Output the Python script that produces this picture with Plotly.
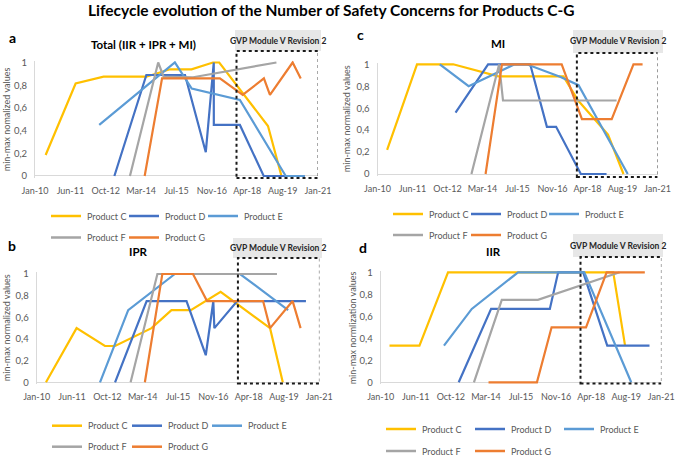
import pandas as pd
import plotly.graph_objects as go

W, H = 677, 457

PRODUCTS = ["Product C", "Product D", "Product E", "Product F", "Product G"]
COLORS = ["#FFC000", "#4472C4", "#5B9BD5", "#A5A5A5", "#ED7D31"]

X_TICK_LABELS = ["Jan-10", "Jun-11", "Oct-12", "Mar-14", "Jul-15", "Nov-16", "Apr-18", "Aug-19", "Jan-21"]
Y_TICK_VALUES = [0, 0.2, 0.4, 0.6, 0.8, 1]
Y_TICK_LABELS = ["0", "0,2", "0,4", "0,6", "0,8", "1"]
GVP_START, GVP_END = "2017-11-01", "2021-01-10"

# ---------------- Panel a: Total (IIR + IPR + MI) ----------------
tot_c_x = ["2010-06-01", "2011-08-01", "2012-09-01", "2014-05-01", "2015-04-01", "2016-02-01", "2016-12-01", "2017-03-01", "2019-01-22", "2019-08-01"]
tot_c_y = [0.185, 0.815, 0.875, 0.875, 0.94, 0.94, 1.0, 1.0, 0.44, 0.0]
tot_d_x = ["2013-02-01", "2014-05-01", "2015-11-01", "2016-08-22", "2016-12-13", "2016-12-14", "2017-12-19", "2018-11-22", "2020-06-25"]
tot_d_y = [0.0, 0.89, 0.89, 0.21, 1.0, 0.45, 0.45, 0.0, 0.0]
tot_e_x = ["2012-07-01", "2015-06-10", "2016-02-04", "2017-12-19", "2019-10-01", "2020-06-25"]
tot_e_y = [0.45, 1.0, 0.77, 0.67, 0.0, 0.0]
tot_f_x = ["2013-09-10", "2014-10-16", "2015-01-01", "2016-02-25", "2019-05-22"]
tot_f_y = [0.0, 1.0, 0.875, 0.87, 1.0]
tot_g_x = ["2014-04-07", "2014-12-10", "2017-03-10", "2018-01-28", "2018-11-25", "2019-02-19", "2020-01-07", "2020-05-01"]
tot_g_y = [0.0, 0.86, 0.86, 0.715, 0.86, 0.715, 1.0, 0.86]

# ---------------- Panel b: IPR ----------------
ipr_c_x = ["2010-05-13", "2011-07-22", "2012-08-28", "2013-01-19", "2014-06-22", "2015-04-01", "2016-01-01", "2017-02-28", "2019-02-01", "2019-08-01"]
ipr_c_y = [0.0, 0.5, 0.335, 0.335, 0.5, 0.667, 0.667, 0.835, 0.5, 0.0]
ipr_d_x = ["2013-01-19", "2014-04-13", "2015-11-01", "2016-08-01", "2016-11-16", "2016-12-01", "2017-10-22", "2020-06-25"]
ipr_d_y = [0.0, 0.75, 0.75, 0.25, 0.75, 0.5, 0.75, 0.75]
ipr_e_x = ["2012-06-19", "2013-07-25", "2015-05-19", "2017-12-01", "2019-10-16"]
ipr_e_y = [0.0, 0.667, 1.0, 1.0, 0.667]
ipr_f_x = ["2013-08-28", "2014-09-13", "2019-05-10"]
ipr_f_y = [0.0, 1.0, 1.0]
ipr_g_x = ["2014-03-19", "2014-11-22", "2016-02-01", "2016-08-19", "2018-10-25", "2019-02-01", "2019-12-19", "2020-04-10"]
ipr_g_y = [0.0, 1.0, 1.0, 0.75, 0.75, 0.5, 0.75, 0.5]

# ---------------- Panel c: MI ----------------
mi_c_x = ["2010-05-19", "2011-07-22", "2012-12-22", "2014-10-01", "2017-04-22", "2017-11-19", "2019-01-22", "2019-09-01"]
mi_c_y = [0.22, 1.0, 1.0, 0.89, 0.89, 0.67, 0.36, 0.0]
mi_d_x = ["2013-01-25", "2014-05-07", "2016-01-01", "2016-08-28", "2017-01-07", "2017-12-28", "2019-01-01"]
mi_d_y = [0.56, 1.0, 1.0, 0.43, 0.43, 0.0, 0.0]
mi_e_x = ["2012-06-13", "2013-08-01", "2015-05-22", "2015-11-13", "2017-03-04", "2017-11-25", "2019-11-01"]
mi_e_y = [1.0, 0.8, 1.0, 1.0, 0.887, 0.81, 0.0]
mi_f_x = ["2013-09-10", "2014-10-13", "2014-12-07", "2019-05-25"]
mi_f_y = [0.0, 1.0, 0.67, 0.67]
mi_g_x = ["2014-04-01", "2014-11-22", "2017-03-28", "2018-01-13", "2019-03-16", "2020-01-22", "2020-06-01"]
mi_g_y = [0.0, 1.0, 1.0, 0.5, 0.5, 1.0, 1.0]

# ---------------- Panel d: IIR ----------------
iir_c_x = ["2010-05-07", "2011-07-10", "2012-08-22", "2019-02-13", "2019-08-01"]
iir_c_y = [0.333, 0.333, 1.0, 1.0, 0.333]
iir_d_x = ["2013-01-22", "2014-05-01", "2016-08-19", "2016-12-16", "2017-12-10", "2018-11-19", "2020-07-16"]
iir_d_y = [0.0, 0.667, 0.667, 1.0, 1.0, 0.333, 0.333]
iir_e_x = ["2012-06-25", "2013-07-28", "2015-05-22", "2017-12-25", "2019-10-28"]
iir_e_y = [0.333, 0.667, 1.0, 1.0, 0.0]
iir_f_x = ["2013-08-28", "2014-10-01", "2016-03-01", "2019-05-16"]
iir_f_y = [0.0, 0.75, 0.75, 1.0]
iir_g_x = ["2014-03-25", "2016-02-16", "2016-09-13", "2018-01-19", "2018-11-10", "2020-05-10"]
iir_g_y = [0.0, 0.0, 0.5, 0.5, 1.0, 1.0]

FONT = "Lato"
TXT = "#595959"

# panel geometry in pixels
panels = [
    dict(key="a", title="Total (IIR + IPR + MI)", ytitle="min-max nomalized values",
         px=(35, 318, 62.5, 176),
         series=[(tot_c_x, tot_c_y), (tot_d_x, tot_d_y), (tot_e_x, tot_e_y), (tot_f_x, tot_f_y), (tot_g_x, tot_g_y)],
         letter=(12, 37), ttl=(143, 45), ytl=6,
         hdr=(235, 321, 30, 51), box_bottom=178,
         leg_rows=(216, 237.5), leg_x=(51, 129, 208)),
    dict(key="c", title="MI", ytitle="min-max normalized values",
         px=(377.5, 657.5, 64.3, 174),
         series=[(mi_c_x, mi_c_y), (mi_d_x, mi_d_y), (mi_e_x, mi_e_y), (mi_f_x, mi_f_y), (mi_g_x, mi_g_y)],
         letter=(360, 35), ttl=(498, 43.5), ytl=346,
         hdr=(573, 663, 30, 53), box_bottom=177,
         leg_rows=(214, 235), leg_x=(393, 471, 549)),
    dict(key="b", title="IPR", ytitle="min-max normalized values",
         px=(36.7, 319.3, 274, 382.3),
         series=[(ipr_c_x, ipr_c_y), (ipr_d_x, ipr_d_y), (ipr_e_x, ipr_e_y), (ipr_f_x, ipr_f_y), (ipr_g_x, ipr_g_y)],
         letter=(12, 245), ttl=(138, 251), ytl=6,
         hdr=(233, 322, 238, 258), box_bottom=383.5,
         leg_rows=(425.7, 446.7), leg_x=(52, 132, 212)),
    dict(key="d", title="IIR", ytitle="min-max normlization values",
         px=(380.7, 661.3, 272.3, 382.3),
         series=[(iir_c_x, iir_c_y), (iir_d_x, iir_d_y), (iir_e_x, iir_e_y), (iir_f_x, iir_f_y), (iir_g_x, iir_g_y)],
         letter=(363, 247), ttl=(493, 251), ytl=352,
         hdr=(573, 663, 234, 257), box_bottom=383.5,
         leg_rows=(429, 451), leg_x=(386, 475, 564)),
]

fig = go.Figure()
tickvals = pd.date_range("2010-01-01", "2021-01-01", periods=len(X_TICK_LABELS))


def px2x(p):
    return p / W


def px2y(p):
    return 1 - p / H


layout = dict(width=W, height=H, margin=dict(l=0, r=0, t=0, b=0, autoexpand=False),
              paper_bgcolor="white", plot_bgcolor="white", showlegend=False)
annotations = []
shapes = []

for i, p in enumerate(panels):
    n = i + 1
    xa = "xaxis" if n == 1 else f"xaxis{n}"
    ya = "yaxis" if n == 1 else f"yaxis{n}"
    xr = "x" if n == 1 else f"x{n}"
    yr = "y" if n == 1 else f"y{n}"
    l, r, t, b = p["px"]
    pad = 0.015
    unit = (b - t)
    layout[xa] = dict(domain=[px2x(l), px2x(r)], type="date", range=["2010-01-01", "2021-01-01"],
                      tickvals=list(tickvals), ticktext=X_TICK_LABELS, showgrid=False, showline=False,
                      zeroline=False, ticks="", anchor=yr, ticklabelstandoff=6, automargin=False,
                      tickfont=dict(family=FONT, size=9, color=TXT), fixedrange=True)
    layout[ya] = dict(domain=[px2y(b + pad * unit), px2y(t - pad * unit)], range=[-pad, 1 + pad],
                      tickvals=Y_TICK_VALUES, ticktext=Y_TICK_LABELS, showgrid=False,
                      showline=True, linecolor="#D9D9D9", linewidth=1,
                      zeroline=True, zerolinecolor="#D9D9D9", zerolinewidth=1,
                      ticks="", ticklabelstandoff=5, anchor=xr, automargin=False,
                      tickfont=dict(family=FONT, size=9.5, color=TXT), fixedrange=True)
    for j, (name, col, (xs, ys)) in enumerate(zip(PRODUCTS, COLORS, p["series"])):
        fig.add_trace(go.Scatter(x=xs, y=ys, mode="lines", name=name,
                                 line=dict(color=col, width=2.2),
                                 xaxis=xr, yaxis=yr, showlegend=False))
        # legend entry (line sample + label)
        row = 0 if j < 3 else 1
        col_i = j if j < 3 else j - 3
        lx = p["leg_x"][col_i]
        ly = p["leg_rows"][row]
        shapes.append(dict(type="line", xref="paper", yref="paper", x0=px2x(lx), x1=px2x(lx + 30),
                           y0=px2y(ly), y1=px2y(ly), line=dict(color=col, width=2.5)))
        annotations.append(dict(text=name, x=px2x(lx + 34), y=px2y(ly), xref="paper", yref="paper",
                                showarrow=False, xanchor="left", yanchor="middle",
                                font=dict(family=FONT, size=9, color=TXT)))

    # panel letter, title, y title
    annotations.append(dict(text=f"<b>{p['key']}</b>", x=px2x(p["letter"][0]), y=px2y(p["letter"][1]),
                            xref="paper", yref="paper", showarrow=False,
                            font=dict(family=FONT, size=14, color="black"), xanchor="center", yanchor="middle"))
    annotations.append(dict(text=f"<b>{p['title']}</b>", x=px2x(p["ttl"][0]), y=px2y(p["ttl"][1]),
                            xref="paper", yref="paper", showarrow=False,
                            font=dict(family=FONT, size=11.5, color="black"), xanchor="center", yanchor="middle"))
    annotations.append(dict(text=p["ytitle"], x=px2x(p["ytl"]), y=px2y((t + b) / 2),
                            xref="paper", yref="paper", showarrow=False, textangle=-90,
                            font=dict(family=FONT, size=9, color=TXT), xanchor="center", yanchor="middle"))
    # GVP header
    hx0, hx1, hy0, hy1 = p["hdr"]
    shapes.append(dict(type="rect", xref="paper", yref="paper", x0=px2x(hx0), x1=px2x(hx1),
                       y0=px2y(hy1), y1=px2y(hy0), fillcolor="#E7E7E7", line=dict(width=0), layer="below"))
    annotations.append(dict(text="<b>GVP Module V Revision 2</b>", x=px2x((hx0 + hx1) / 2), y=px2y((hy0 + hy1) / 2),
                            xref="paper", yref="paper", showarrow=False,
                            font=dict(family=FONT, size=8.5, color="#262626"), xanchor="center", yanchor="middle"))
    # dashed box
    shapes.append(dict(type="rect", xref=xr, yref="paper", x0=GVP_START, x1=GVP_END,
                       y0=px2y(p["box_bottom"]), y1=px2y(hy1),
                       line=dict(color="#1a1a1a", width=2, dash="3px,3px"), fillcolor="rgba(0,0,0,0)", layer="above"))

annotations.append(dict(text="<b>Lifecycle evolution of the Number of Safety Concerns for Products C-G</b>",
                        x=px2x(331), y=px2y(10), xref="paper", yref="paper", showarrow=False,
                        font=dict(family=FONT, size=15.5, color="black"), xanchor="center", yanchor="middle"))

layout["annotations"] = annotations
layout["shapes"] = shapes
fig.update_layout(**layout)
fig.write_html("out.html", config={"displayModeBar": False},
               post_script="document.body.style.margin='0';document.body.style.overflow='hidden';")
